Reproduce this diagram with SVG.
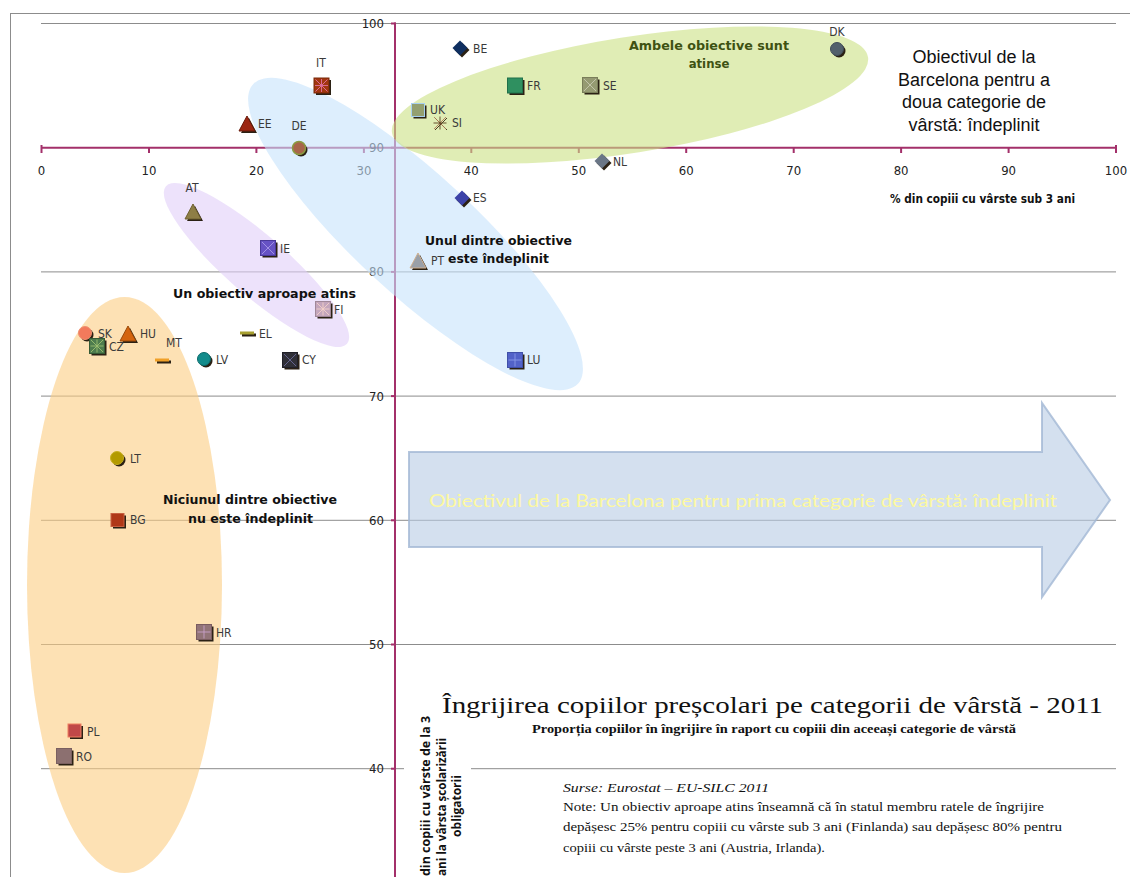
<svg xmlns="http://www.w3.org/2000/svg" xmlns:xlink="http://www.w3.org/1999/xlink" width="1130" height="877" viewBox="0 0 1130 877">
<style>
.grid{stroke:#8c8c8c;stroke-width:1}
.ax{stroke:#a3306a;stroke-width:2;fill:none}
.tick{stroke:#a3306a;stroke-width:2}
.tk{font-family:"DejaVu Sans Condensed","DejaVu Sans",sans-serif;font-stretch:condensed;font-size:13px;fill:#222}
.lb{font-family:"DejaVu Sans Condensed","DejaVu Sans",sans-serif;font-stretch:condensed;font-size:12px;fill:#3a3a3a}
.rg{font-family:"DejaVu Sans Condensed","DejaVu Sans",sans-serif;font-stretch:condensed;font-weight:bold;font-size:13px;fill:#111}
.vt{font-family:"Open Sans","DejaVu Sans",sans-serif;font-weight:bold;font-size:12px;fill:#111}
.sh{fill:#2b2114}
.in{fill:none;stroke-width:0.9}
.serif{font-family:"Liberation Serif","Times New Roman",serif;fill:#111}
</style>
<defs>
<rect id="sq" x="-7.5" y="-7.5" width="15" height="15"/>
<rect id="sqs" x="-6.5" y="-6.5" width="13" height="13"/>
<polygon id="tri" points="0,-8 8,7 -8,7"/>
<circle id="ci" r="6.5"/>
<polygon id="di" points="0,-7.5 7.5,0 0,7.5 -7.5,0"/>
<rect id="da" x="-7" y="-1.5" width="14" height="3"/>
<path id="xx" d="M-6,-6L6,6M6,-6L-6,6"/>
<path id="pl" d="M0,-6.5V6.5M-6.5,0H6.5"/>
</defs>

<rect x="0" y="0" width="1130" height="877" fill="#ffffff"/>
<rect x="10.5" y="13.5" width="1130" height="880" fill="none" stroke="#8c8c8c" stroke-width="1"/>

<g id="axes">
<line class="grid" x1="41" y1="23.5" x2="1116" y2="23.5"/>
<line class="grid" x1="41" y1="271.9" x2="1116" y2="271.9"/>
<line class="grid" x1="41" y1="396.1" x2="1116" y2="396.1"/>
<line class="grid" x1="41" y1="520.3" x2="1116" y2="520.3"/>
<line class="grid" x1="41" y1="644.5" x2="1116" y2="644.5"/>
<line class="grid" x1="41" y1="768.7" x2="1116" y2="768.7"/>
<line class="ax" x1="41" y1="147.7" x2="1116" y2="147.7"/>
<g class="tick">
<line x1="41.5" y1="145" x2="41.5" y2="153"/><line x1="149" y1="147" x2="149" y2="153"/><line x1="256.4" y1="147" x2="256.4" y2="153"/><line x1="363.9" y1="147" x2="363.9" y2="153"/><line x1="471.3" y1="147" x2="471.3" y2="153"/><line x1="578.8" y1="147" x2="578.8" y2="153"/><line x1="686.2" y1="147" x2="686.2" y2="153"/><line x1="793.7" y1="147" x2="793.7" y2="153"/><line x1="901.1" y1="147" x2="901.1" y2="153"/><line x1="1008.6" y1="147" x2="1008.6" y2="153"/><line x1="1116" y1="145" x2="1116" y2="153"/>
<line x1="391" y1="23.5" x2="396" y2="23.5"/><line x1="391" y1="147.7" x2="396" y2="147.7"/><line x1="391" y1="271.9" x2="396" y2="271.9"/><line x1="391" y1="396.1" x2="396" y2="396.1"/><line x1="391" y1="520.3" x2="396" y2="520.3"/><line x1="391" y1="644.5" x2="396" y2="644.5"/><line x1="391" y1="768.7" x2="396" y2="768.7"/>
</g>
<line class="ax" x1="395" y1="22.5" x2="395" y2="877"/>
<g class="tk" text-anchor="middle">
<text x="41.5" y="175">0</text><text x="149" y="175">10</text><text x="256.4" y="175">20</text><text x="363.9" y="175">30</text><text x="471.3" y="175">40</text><text x="578.8" y="175">50</text><text x="686.2" y="175">60</text><text x="793.7" y="175">70</text><text x="901.1" y="175">80</text><text x="1008.6" y="175">90</text><text x="1116" y="175">100</text>
</g>
<g class="tk" text-anchor="end">
<text x="384" y="28">100</text><text x="384" y="152.2">90</text><text x="384" y="276.4">80</text><text x="384" y="400.6">70</text><text x="384" y="524.8">60</text><text x="384" y="649">50</text><text x="384" y="773.2">40</text>
</g>
<text class="rg" x="890" y="203" font-size="11" textLength="185" lengthAdjust="spacingAndGlyphs">% din copiii cu vârste sub 3 ani</text>
</g>

<g id="regions">
<ellipse id="region-none" cx="124.5" cy="585" rx="97.5" ry="288" fill="#fccd82" fill-opacity="0.6"/>
<ellipse id="region-almost" cx="256.5" cy="265" rx="120" ry="30" transform="rotate(41 256.5 265)" fill="#e1cff8" fill-opacity="0.6"/>
<ellipse id="region-one" cx="415.5" cy="234" rx="221" ry="60" transform="rotate(42.7 415.5 234)" fill="#c6e3fc" fill-opacity="0.6"/>
<ellipse id="region-both" cx="630" cy="95" rx="241" ry="58" transform="rotate(-9 630 95)" fill="#cbe184" fill-opacity="0.6"/>
</g>

<g id="arrow">
<path d="M409,452H1042V403L1110,500L1042,597V547H409Z" fill="#b8cce4" fill-opacity="0.6" stroke="#a3b8d4" stroke-width="2" stroke-opacity="0.8"/>
<text x="429" y="507" font-family="Lato,'Open Sans',sans-serif" font-size="18" fill="#fcf8a0" textLength="628" lengthAdjust="spacingAndGlyphs">Obiectivul de la Barcelona pentru prima categorie de vârstă: îndeplinit</text>
</g>

<g id="IT"><use xlink:href="#sq" x="323.5" y="87.5" class="sh"/><use xlink:href="#sq" x="321.5" y="85.5" fill="#a3360f" stroke="#7a2a0a"/><use xlink:href="#xx" x="321.5" y="85.5" class="in" stroke="#e070a0"/><use xlink:href="#pl" x="321.5" y="85.5" class="in" stroke="#e070a0"/><text class="lb" x="321" y="67" text-anchor="middle">IT</text></g>
<g id="EE"><use xlink:href="#tri" x="249" y="126" class="sh"/><use xlink:href="#tri" x="247" y="124" fill="#9c2612" stroke="#6a1a0a"/><text class="lb" x="258" y="128">EE</text></g>
<g id="DE"><use xlink:href="#ci" x="301" y="150" class="sh"/><use xlink:href="#ci" x="299" y="148" fill="#a8654a" stroke="#8a9a40" stroke-width="1.5"/><text class="lb" x="299" y="130" text-anchor="middle">DE</text></g>
<g id="AT"><use xlink:href="#tri" x="195" y="214" class="sh"/><use xlink:href="#tri" x="193" y="212" fill="#8e7e46" stroke="#6e6030"/><text class="lb" x="192" y="192" text-anchor="middle">AT</text></g>
<g id="IE"><use xlink:href="#sq" x="270" y="250" class="sh"/><use xlink:href="#sq" x="268" y="248" fill="#6652c4" stroke="#4a3a98"/><use xlink:href="#xx" x="268" y="248" class="in" stroke="#a898e8"/><text class="lb" x="280" y="253">IE</text></g>
<g id="FI"><use xlink:href="#sq" x="325" y="311" class="sh"/><use xlink:href="#sq" x="323" y="309" fill="#c4a6bc" stroke="#a08898"/><use xlink:href="#xx" x="323" y="309" class="in" stroke="#f4d0c8"/><use xlink:href="#pl" x="323" y="309" class="in" stroke="#f4d0c8"/><text class="lb" x="334" y="314">FI</text></g>
<g id="SK"><use xlink:href="#ci" x="87" y="335" class="sh"/><use xlink:href="#ci" x="85" y="333" fill="#f27a5c" stroke="#f09070"/><text class="lb" x="98" y="338">SK</text></g>
<g id="HU"><use xlink:href="#tri" x="130" y="336" class="sh"/><use xlink:href="#tri" x="128" y="334" fill="#d4640e" stroke="#9a4a0a"/><text class="lb" x="140" y="338">HU</text></g>
<g id="CZ"><use xlink:href="#sq" x="99" y="348" class="sh"/><use xlink:href="#sq" x="97" y="346" fill="#4e7c4e" stroke="#355a35"/><use xlink:href="#xx" x="97" y="346" class="in" stroke="#9cc070"/><use xlink:href="#pl" x="97" y="346" class="in" stroke="#9cc070"/><text class="lb" x="109" y="351">CZ</text></g>
<g id="MT"><use xlink:href="#da" x="164" y="362" class="sh"/><use xlink:href="#da" x="162" y="360" fill="#f0a028"/><text class="lb" x="166" y="347">MT</text></g>
<g id="LV"><use xlink:href="#ci" x="206" y="361" class="sh"/><use xlink:href="#ci" x="204" y="359" fill="#138c8c" stroke="#0a6a6a"/><text class="lb" x="216" y="364">LV</text></g>
<g id="EL"><use xlink:href="#da" x="249" y="335" class="sh"/><use xlink:href="#da" x="247" y="333" fill="#a8a030"/><text class="lb" x="259" y="338">EL</text></g>
<g id="CY"><use xlink:href="#sq" x="292" y="362" class="sh"/><use xlink:href="#sq" x="290" y="360" fill="#303038" stroke="#202028"/><use xlink:href="#xx" x="290" y="360" class="in" stroke="#6a6a98"/><text class="lb" x="302" y="364">CY</text></g>
<g id="LT"><use xlink:href="#ci" x="119" y="460" class="sh"/><use xlink:href="#ci" x="117" y="458" fill="#b39a00" stroke="#c8b020"/><text class="lb" x="130" y="463">LT</text></g>
<g id="BG"><use xlink:href="#sqs" x="119.5" y="522" class="sh"/><use xlink:href="#sqs" x="117.5" y="520" fill="#b03818" stroke="#c86040"/><text class="lb" x="130" y="524">BG</text></g>
<g id="HR"><use xlink:href="#sq" x="206" y="634" class="sh"/><use xlink:href="#sq" x="204" y="632" fill="#927478" stroke="#7a5c60"/><use xlink:href="#pl" x="204" y="632" class="in" stroke="#c8a0c8"/><text class="lb" x="216" y="637">HR</text></g>
<g id="PL"><use xlink:href="#sqs" x="76.5" y="732.5" class="sh"/><use xlink:href="#sqs" x="74.5" y="730.5" fill="#c04848" stroke="#f08060"/><text class="lb" x="87" y="736">PL</text></g>
<g id="RO"><use xlink:href="#sq" x="66" y="758" class="sh"/><use xlink:href="#sq" x="64" y="756" fill="#8c7070" stroke="#7a6060"/><text class="lb" x="76" y="761">RO</text></g>
<g id="BE"><use xlink:href="#di" x="462" y="50" class="sh"/><use xlink:href="#di" x="460" y="48" fill="#0f2f60"/><text class="lb" x="473" y="53">BE</text></g>
<g id="FR"><use xlink:href="#sq" x="517" y="87.5" class="sh"/><use xlink:href="#sq" x="515" y="85.5" fill="#2f9060" stroke="#20704a"/><text class="lb" x="527" y="90">FR</text></g>
<g id="SE"><use xlink:href="#sq" x="592" y="87" class="sh"/><use xlink:href="#sq" x="590" y="85" fill="#959a72" stroke="#7a7e5a"/><use xlink:href="#xx" x="590" y="85" class="in" stroke="#c8c8b0"/><text class="lb" x="603" y="90">SE</text></g>
<g id="UK"><use xlink:href="#sqs" x="420" y="112" class="sh"/><use xlink:href="#sqs" x="418" y="110" fill="#94a070" stroke="#a8d0f0"/><text class="lb" x="430" y="114">UK</text></g>
<g id="SI"><use xlink:href="#xx" x="441" y="124" class="in" stroke="#3a2a10"/><use xlink:href="#xx" x="440" y="123" class="in" stroke="#b07a58" stroke-width="1.3"/><use xlink:href="#pl" x="440" y="123" class="in" stroke="#5a4020" stroke-width="1.3"/><text class="lb" x="452" y="127">SI</text></g>
<g id="NL"><use xlink:href="#di" x="604" y="163" class="sh"/><use xlink:href="#di" x="602" y="161" fill="#6a7686"/><text class="lb" x="613" y="166">NL</text></g>
<g id="ES"><use xlink:href="#di" x="464" y="200" class="sh"/><use xlink:href="#di" x="462" y="198" fill="#3c42a8"/><text class="lb" x="473" y="202">ES</text></g>
<g id="PT"><use xlink:href="#tri" x="420" y="263" class="sh"/><use xlink:href="#tri" x="418" y="261" fill="#9aa0a8" stroke="#d0b090"/><text class="lb" x="431" y="265">PT</text></g>
<g id="LU"><use xlink:href="#sq" x="517" y="362" class="sh"/><use xlink:href="#sq" x="515" y="360" fill="#5262c8" stroke="#4050a8"/><use xlink:href="#pl" x="515" y="360" class="in" stroke="#8898e8"/><text class="lb" x="527" y="364">LU</text></g>
<g id="DK"><use xlink:href="#ci" x="839" y="51" class="sh"/><use xlink:href="#ci" x="837" y="49" fill="#52606c" stroke="#404c58"/><text class="lb" x="837" y="36" text-anchor="middle" font-size="11">DK</text></g>

<g id="region-labels">
<text class="rg" x="709" y="50" text-anchor="middle" style="fill:#3e5212" textLength="160" lengthAdjust="spacingAndGlyphs">Ambele obiective sunt</text>
<text class="rg" x="709" y="68" text-anchor="middle" style="fill:#3e5212">atinse</text>
<text class="rg" x="498.5" y="245" text-anchor="middle" textLength="147" lengthAdjust="spacingAndGlyphs">Unul dintre obiective</text>
<text class="rg" x="498.5" y="263" text-anchor="middle" textLength="101" lengthAdjust="spacingAndGlyphs">este îndeplinit</text>
<text class="rg" x="173" y="298" textLength="183" lengthAdjust="spacingAndGlyphs">Un obiectiv aproape atins</text>
<text class="rg" x="250" y="504" text-anchor="middle" textLength="174" lengthAdjust="spacingAndGlyphs">Niciunul dintre obiective</text>
<text class="rg" x="250.5" y="523" text-anchor="middle" textLength="125" lengthAdjust="spacingAndGlyphs">nu este îndeplinit</text>
</g>

<g id="second-goal" font-family="'Liberation Sans',Arial,sans-serif" font-size="18" fill="#111" text-anchor="middle">
<text x="974" y="63">Obiectivul de la</text>
<text x="974" y="85.5">Barcelona pentru a</text>
<text x="974" y="108">doua categorie de</text>
<text x="974" y="130.5">vârstă: îndeplinit</text>
</g>

<g id="y-title">
<rect x="404" y="722" width="67" height="155" fill="#ffffff"/>
<g class="vt">
<text transform="translate(430,876) rotate(-90)" textLength="160" lengthAdjust="spacingAndGlyphs">din copiii cu vârste de la 3</text>
<text transform="translate(445.5,876) rotate(-90)" textLength="138" lengthAdjust="spacingAndGlyphs">ani la vârsta școlarizării</text>
<text transform="translate(461,806) rotate(-90)" text-anchor="middle">obligatorii</text>
</g>
</g>

<g id="title">
<text class="serif" x="442" y="713" font-size="24" textLength="661" lengthAdjust="spacingAndGlyphs">Îngrijirea copiilor preșcolari pe categorii de vârstă - 2011</text>
<text class="serif" x="532" y="733" font-size="12" font-weight="bold" textLength="484" lengthAdjust="spacingAndGlyphs">Proporția copiilor în îngrijire în raport cu copiii din aceeași categorie de vârstă</text>
</g>

<g id="notes" class="serif" font-size="13">
<text x="563" y="792" font-style="italic" textLength="206" lengthAdjust="spacingAndGlyphs">Surse:  Eurostat – EU-SILC 2011</text>
<text x="563" y="811" textLength="481" lengthAdjust="spacingAndGlyphs">Note: Un obiectiv aproape atins înseamnă că în statul membru ratele de îngrijire</text>
<text x="563" y="831" textLength="499" lengthAdjust="spacingAndGlyphs">depășesc 25% pentru copiii cu vârste sub 3 ani (Finlanda) sau depășesc 80% pentru</text>
<text x="563" y="852" textLength="262" lengthAdjust="spacingAndGlyphs">copiii cu vârste peste 3 ani (Austria, Irlanda).</text>
</g>
</svg>
